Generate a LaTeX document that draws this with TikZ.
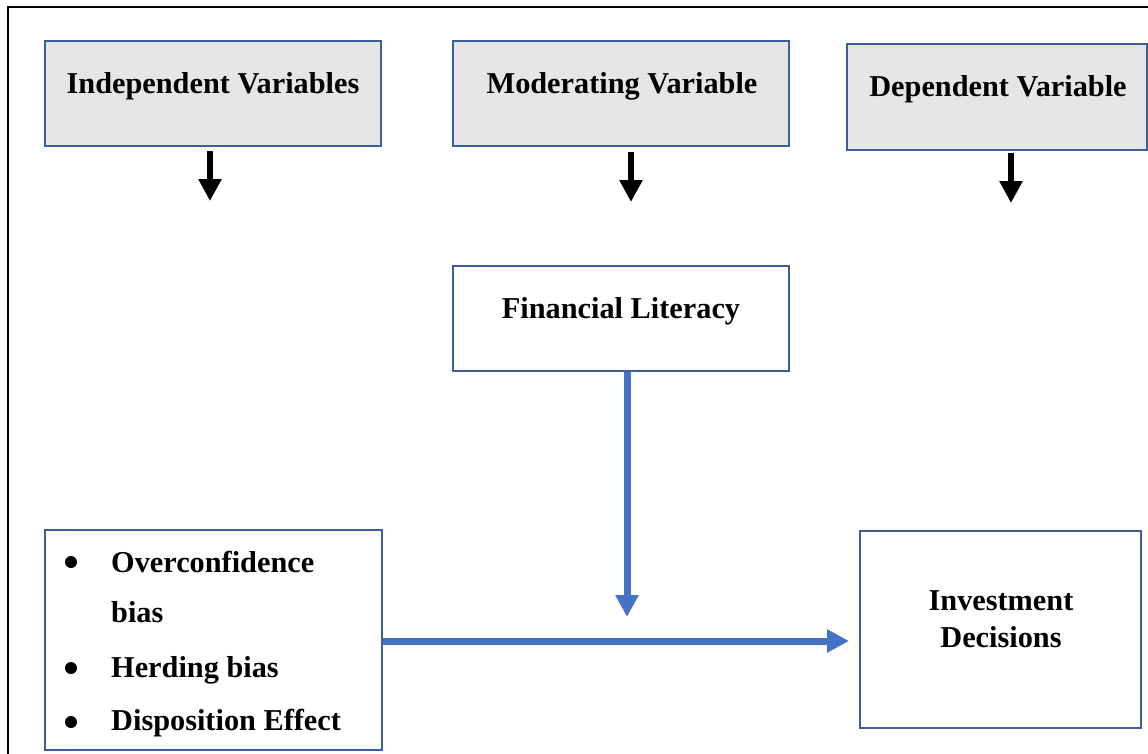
\documentclass[tikz,border=0pt]{standalone}
\usepackage{fontspec}
\setmainfont{Liberation Serif}
\usetikzlibrary{arrows.meta}
\definecolor{boxblue}{RGB}{60,95,155}
\definecolor{arrowblue}{RGB}{68,114,196}
\definecolor{boxgrey}{RGB}{231,230,230}
\begin{document}
\begin{tikzpicture}[x=1pt,y=-1pt,
  box/.style={draw=boxblue,line width=1.9pt,rectangle,inner sep=0pt,fill=white},
  hdr/.style={box,fill=boxgrey},
  lbl/.style={font=\fontsize{30.3}{35}\selectfont\bfseries,inner sep=0pt,anchor=base},
  lblw/.style={lbl,anchor=base west},
  bul/.style={circle,fill=black,inner sep=0pt,minimum size=12pt},
  blk/.style={line width=6pt,-{Triangle[width=22pt,length=22pt]}},
  blu/.style={draw=arrowblue,line width=7pt,-{Triangle[width=22pt,length=22pt]}}]
\useasboundingbox (0,0) rectangle (1148,753);
\clip (0,0) rectangle (1148,753);
\draw[line width=2pt] (8,7) rectangle (1170,780);
% header boxes
\node[hdr,minimum width=336pt,minimum height=105pt] (indep) at (213,93.5) {};
\node[hdr,minimum width=336pt,minimum height=105pt] (mod) at (621,93.5) {};
\node[hdr,minimum width=300pt,minimum height=106pt] (dep) at (997,97) {};
\node[lbl] (tindep) at (213,93) {Independent Variables};
\node[lbl] (tmod) at (622,93) {Moderating Variable};
\node[lbl] (tdep) at (998,96) {Dependent Variable};
% black arrows
\coordinate (a1) at (210,201);
\coordinate (a2) at (631,202);
\coordinate (a3) at (1011,203);
\draw[blk,shorten <=4pt] (indep.south -| a1) -- (a1);
\draw[blk,shorten <=5pt] (mod.south -| a2) -- (a2);
\draw[blk,shorten <=2pt] (dep.south -| a3) -- (a3);
% financial literacy
\node[box,minimum width=336pt,minimum height=105pt] (fin) at (621,318.5) {};
\node[lbl] (tfin) at (621,318) {Financial Literacy};
% left box
\node[box,minimum width=337pt,minimum height=220pt] (left) at (213.5,640) {};
\node[bul] (b1) at (71,562) {};
\node[bul] (b2) at (71,668) {};
\node[bul] (b3) at (71,722) {};
\node[lblw] (l1) at (111,572) {Overconfidence};
\node[lblw] (l2) at (111,622) {bias};
\node[lblw] (l3) at (111,677) {Herding bias};
\node[lblw] (l4) at (111,730) {Disposition Effect};
% investment decisions
\node[box,minimum width=281pt,minimum height=197pt] (inv) at (1000.5,629.5) {};
\node[lbl] (ti1) at (1001,610) {Investment};
\node[lbl] (ti2) at (1001,647) {Decisions};
% blue arrows
\coordinate (m1) at (627,617);
\draw[blu] (fin.south -| m1) -- (m1);
\coordinate (hy) at (600,641);
\draw[blu,shorten >=10pt] (left.east |- hy) -- (inv.west |- hy);
\end{tikzpicture}
\end{document}
